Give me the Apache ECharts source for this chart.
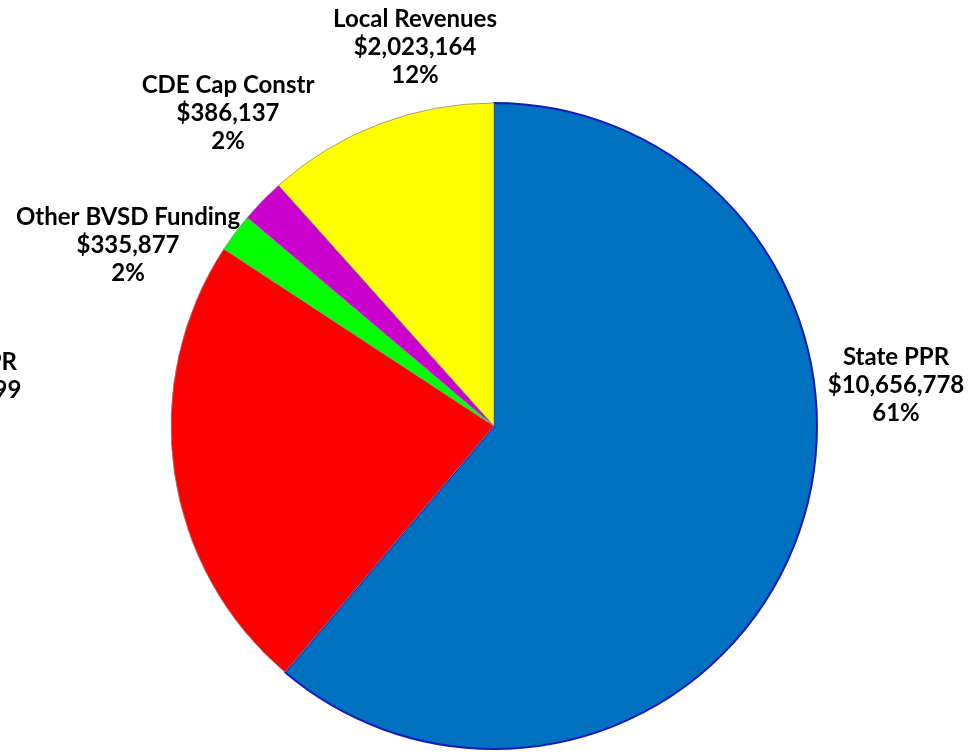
<!DOCTYPE html>
<html>
<head>
<meta charset="utf-8">
<script src="https://cdn.jsdelivr.net/npm/echarts@6/dist/echarts.min.js"></script>
<style>
html,body{margin:0;padding:0;background:#fff;}
#main{width:977px;height:753px;}
</style>
</head>
<body>
<div id="main"></div>
<script>
// Data
const categories = ['State PPR', 'BVSD PPR', 'Other BVSD Funding', 'CDE Cap Constr', 'Local Revenues'];
const values = [10656778, 4012099, 335877, 386137, 2023164];
const colors = ['#0070C0', '#FF0000', '#00FF00', '#CC00CC', '#FFFF00'];

// label anchor centres (text layout only)
const labelCentres = [[896, 385], [-40, 390], [128, 245], [228, 113], [415, 47]];

const chart = echarts.init(document.getElementById('main'), null, {renderer: 'canvas'});
const data = categories.map((c, i) => ({
  name: c,
  value: values[i],
  itemStyle: {
    color: colors[i],
    borderColor: i === 0 ? '#1A1AB8' : '#8a8a8a',
    borderWidth: i === 0 ? 2 : 0.8
  }
}));

chart.setOption({
  animation: false,
  backgroundColor: '#ffffff',
  series: [{
    type: 'pie',
    center: [494, 426],
    radius: 323,
    startAngle: 90,
    clockwise: true,
    data: data,
    emphasis: {disabled: true},
    labelLine: {show: false},
    label: {
      show: true,
      position: 'inside',
      overflow: 'none',
      fontFamily: 'Lato',
      fontWeight: 'bold',
      fontSize: 24,
      lineHeight: 28,
      color: '#000',
      textBorderWidth: 0,
      formatter: function (p) {
        return p.name + '\n$' + p.value.toLocaleString('en-US') + '\n' + Math.round(p.percent) + '%';
      }
    },
    labelLayout: function (p) {
      const c = labelCentres[p.dataIndex];
      return {x: c[0], y: c[1], align: 'center', verticalAlign: 'middle', hideOverlap: false};
    }
  }]
});
</script>
</body>
</html>
